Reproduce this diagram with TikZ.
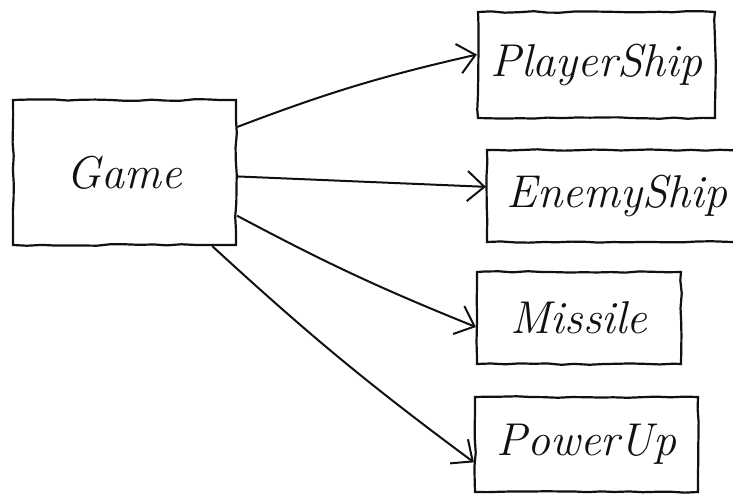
\documentclass[tikz,border=0pt]{standalone}
\usepackage{tikz}
\usetikzlibrary{arrows.meta,decorations.pathmorphing}
\definecolor{ink}{HTML}{111111}
\def\hand{\fontsize{46}{52}\selectfont\itshape}

\begin{document}
\begin{tikzpicture}[
  x=1pt, y=-1pt,
  sketch/.style={decorate, decoration={random steps, segment length=14pt, amplitude=0.8pt}},
  cls/.style={draw=ink, line width=2.2pt, sketch, inner sep=0pt, font=\hand, text=ink},
  link/.style={draw=ink, line width=2pt, -{Straight Barb[length=17pt, width=30pt, line width=2pt]}},
]
\useasboundingbox (0,0) rectangle (733,500);

% =====================================================================
% OWNER
% =====================================================================
\node[cls, minimum width=223pt, minimum height=145pt] (game) at (124.5,172.5) {Game};

% =====================================================================
% OWNED OBJECTS
% =====================================================================
\node[cls, minimum width=237pt, minimum height=106pt] (player)  at (596.5,65)  {PlayerShip};
\node[cls, minimum width=260pt, minimum height=92pt]  (enemy)   at (617,196)   {EnemyShip};
\node[cls, minimum width=204pt, minimum height=92pt]  (missile) at (579,318)   {Missile};
\node[cls, minimum width=223pt, minimum height=95pt]  (powerup) at (586.5,444.5) {PowerUp};

% =====================================================================
% LINKS
% =====================================================================
\draw[link] (game.22)  to[bend left=4] (player.175);
\draw[link] (game.-2)  -- (enemy.176);
\draw[link] (game.-21) to[bend right=3] (missile.185);
\draw[link] (game.-40) to[bend right=3] (powerup.189);

\end{tikzpicture}
\end{document}
